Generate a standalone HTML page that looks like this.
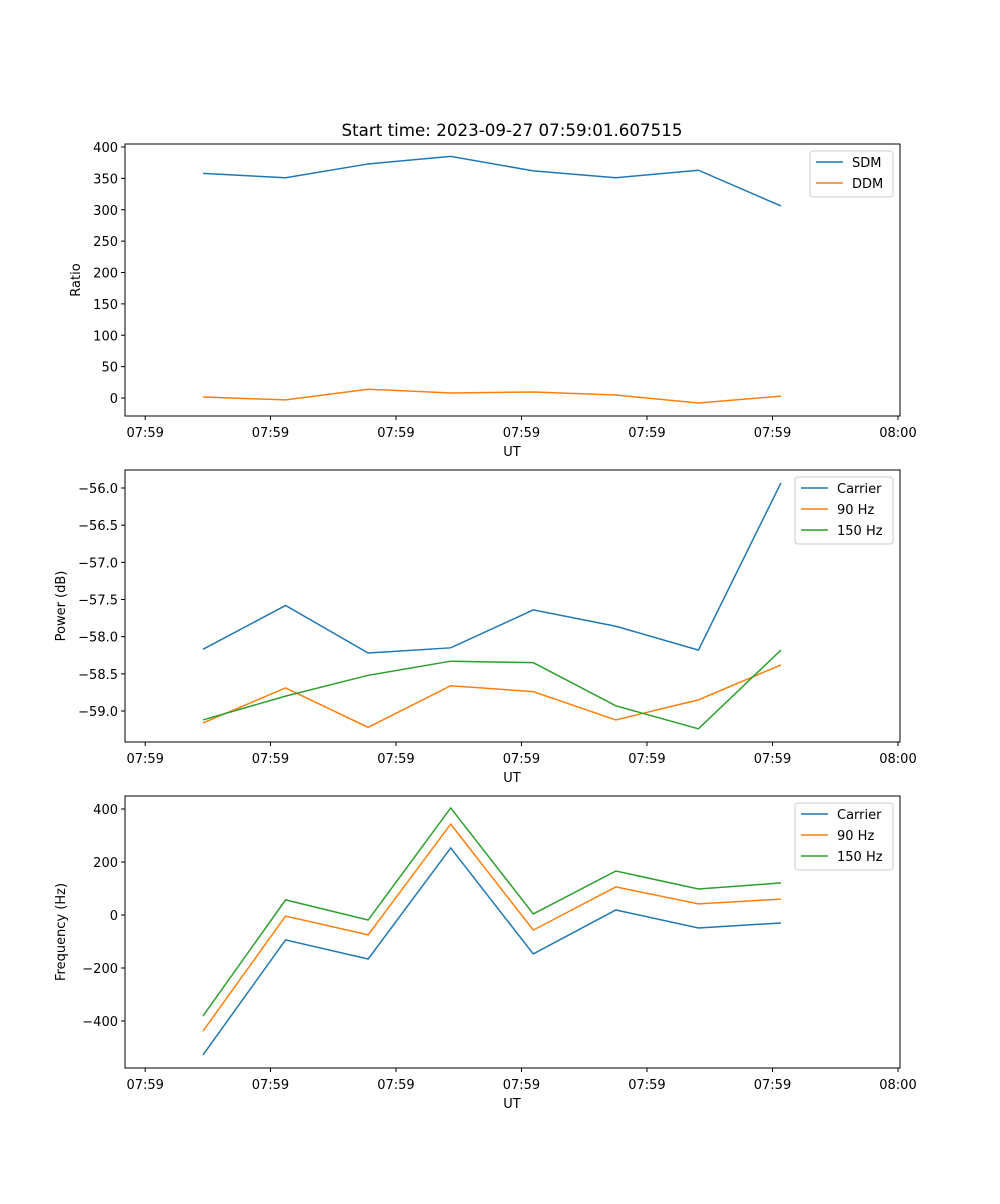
<!DOCTYPE html>
<html><head><meta charset="utf-8"><style>
body{margin:0;background:#fff;font-family:"DejaVu Sans","Liberation Sans",sans-serif;}
svg text{font-family:"DejaVu Sans","Liberation Sans",sans-serif;}
</style></head><body>
<svg id="fig" width="1000" height="1200" xmlns="http://www.w3.org/2000/svg">
<rect width="1000" height="1200" fill="#fff"/>
<text x="512" y="136" font-size="16.7" text-anchor="middle">Start time: 2023-09-27 07:59:01.607515</text>
</svg>
<script>
const xTickLabels = ["07:59","07:59","07:59","07:59","07:59","07:59","08:00"];
const xCats = [0,1,2,3,4,5,6,7];
const sdm = [358,351,373,385,362,351,363,306];
const ddm = [1.6,-3,14,8,9.6,4.8,-8,3];
const pCarrier = [-58.17,-57.58,-58.22,-58.15,-57.64,-57.86,-58.18,-55.93];
const p90 = [-59.16,-58.69,-59.22,-58.66,-58.74,-59.12,-58.85,-58.38];
const p150 = [-59.12,-58.80,-58.52,-58.33,-58.35,-58.93,-59.24,-58.18];
const fCarrier = [-528,-94,-166,253,-147,19,-49,-30];
const f90 = [-438,-4,-75,343,-57,106,42,60];
const f150 = [-381,57,-19,404,4,166,98,121];
const ratioTicks = [0,50,100,150,200,250,300,350,400];
const powerTicks = [-59.0,-58.5,-58.0,-57.5,-57.0,-56.5,-56.0];
const freqTicks = [-400,-200,0,200,400];

const NS="http://www.w3.org/2000/svg";
const svg=document.getElementById('fig');
const C=['#1f77b4','#ff7f0e','#2ca02c'];
function mk(tag,attrs,parent){const e=document.createElementNS(NS,tag);for(const k in attrs)e.setAttribute(k,attrs[k]);(parent||svg).appendChild(e);return e;}
const L=125,R=900;
const xScale=i=>203+i*82.57;
const xTickIdx=[-0.7,0.817,2.337,3.857,5.377,6.897,8.417];
function panel(name,top,bot,v0,px0,v1,px1,ticks,fmt,series,labels,ylabel,legW,legH){
  const y=v=>px0+(v-v0)*(px1-px0)/(v1-v0);
  const g=mk('g',{});
  
  
  ticks.forEach(t=>{const yy=y(t);mk('line',{x1:L-4,x2:L,y1:yy,y2:yy,stroke:'#000'},g);
    const tx=mk('text',{x:L-7,y:yy+5,'font-size':13,'text-anchor':'end'},g);tx.textContent=fmt(t);
    
    });
  xTickIdx.forEach((ti,k)=>{const xx=xScale(ti);mk('line',{x1:xx,x2:xx,y1:bot,y2:bot+4,stroke:'#000'},g);
    const tx=mk('text',{x:xx,y:bot+21,'font-size':13,'text-anchor':'middle'},g);tx.textContent=xTickLabels[k];
    
    });
  series.forEach((s,si)=>{const p=mk('polyline',{points:s.map((v,i)=>xScale(xCats[i])+','+y(v)).join(' '),fill:'none',stroke:C[si],'stroke-width':1.5},g);
    
    });
  mk('rect',{x:L,y:top,width:R-L,height:bot-top,fill:'none',stroke:'#000','stroke-width':1},g);
  const xl=mk('text',{x:512,y:bot+40,'font-size':13,'text-anchor':'middle'},g);xl.textContent='UT';
  
  
  const yl=mk('text',{x:0,y:0,'font-size':13,'text-anchor':'middle',transform:`translate(${name==='ratio'?80:65},${(top+bot)/2}) rotate(-90)`},g);yl.textContent=ylabel;
  
  
  const lx=R-7-legW,ly=top+7;
  const lg=mk('g',{},g);
  
  
  mk('rect',{x:lx,y:ly,width:legW,height:legH,rx:3,fill:'#fff',stroke:'#ccc'},lg);
  labels.forEach((lb,i)=>{const yy=ly+11+i*21;
    mk('line',{x1:lx+6,x2:lx+33,y1:yy,y2:yy,stroke:C[i],'stroke-width':1.5},lg);
    const t=mk('text',{x:lx+42,y:yy+5,'font-size':13},lg);t.textContent=lb;
    
    });
}
panel('ratio',144,416,0,398,400,147,ratioTicks,t=>String(t),[sdm,ddm],['SDM','DDM'],'Ratio',83,46);
panel('power',470,742,-56,488,-59,711,powerTicks,t=>'\u2212'+Math.abs(t).toFixed(1),[pCarrier,p90,p150],['Carrier','90 Hz','150 Hz'],'Power (dB)',98,67);
panel('frequency',796,1068,0,915,400,809,freqTicks,t=>t<0?'\u2212'+Math.abs(t):String(t),[fCarrier,f90,f150],['Carrier','90 Hz','150 Hz'],'Frequency (Hz)',98,67);
</script>
</body></html>
